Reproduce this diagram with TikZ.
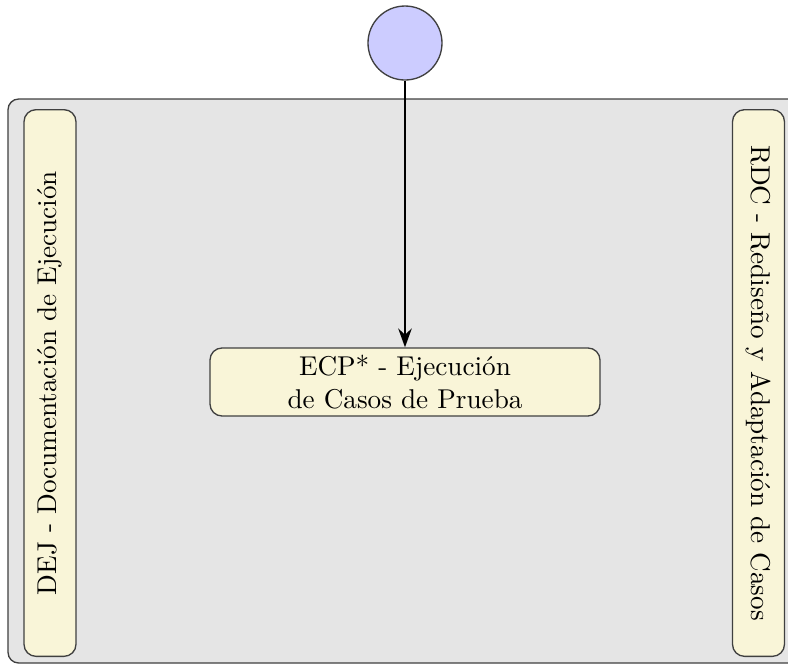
\documentclass[tikz,border=0pt]{standalone}
\usetikzlibrary{arrows.meta}
\definecolor{cream}{RGB}{249,245,216}
\definecolor{lanegray}{RGB}{229,229,229}
\definecolor{startblue}{RGB}{204,204,255}
\begin{document}
\begin{tikzpicture}[x=0.375pt, y=-0.375pt,
  font=\fontsize{10.2pt}{12.4pt}\selectfont,
  edgecol/.style={draw=black!75, line width=0.5pt},
  lane/.style={edgecol, fill=lanegray, rounded corners=4pt},
  sidebox/.style={edgecol, fill=cream, rounded corners=4.5pt, inner sep=0pt,
    minimum width=205pt, minimum height=19.5pt},
  taskbox/.style={edgecol, fill=cream, rounded corners=4.5pt, align=center,
    minimum width=146.25pt, minimum height=25.5pt, inner sep=0pt},
  startnode/.style={circle, edgecol, fill=startblue, minimum size=27.75pt, inner sep=0pt},
  flow/.style={line width=1.1pt, -{Stealth[length=7pt, width=5pt]}}]
  \useasboundingbox (0,0) rectangle (788,666);
  \clip (0,0) rectangle (788,666);
  % swimlane background
  \draw[lane] (8,99) rectangle (820,663);
  % side panels
  \node[sidebox, rotate=90] (dej) at (50,383) {DEJ - Documentación de Ejecución};
  \node[sidebox, rotate=-90] (rdc) at (758.5,383) {RDC - Rediseño y Adaptación de Casos};
  % start event and task
  \node[startnode] (start) at (405,43) {};
  \node[taskbox] (ecp) at (405,382) {ECP* - Ejecución\\de Casos de Prueba};
  \draw[flow] (start) -- (ecp);
\end{tikzpicture}
\end{document}
